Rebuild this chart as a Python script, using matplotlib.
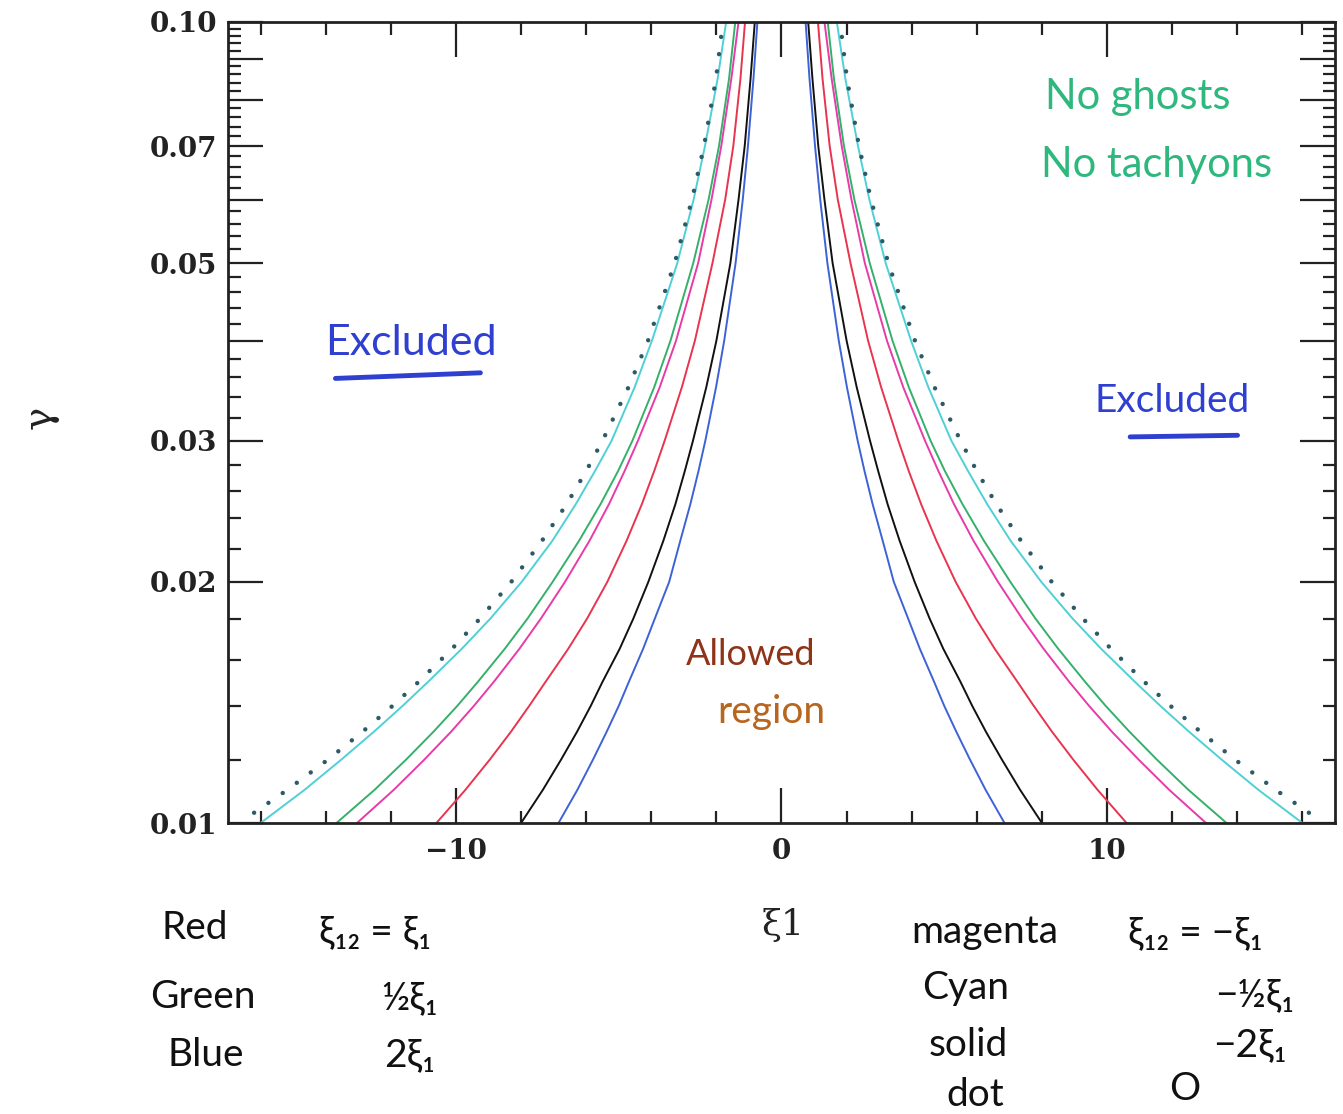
import matplotlib
matplotlib.use("Agg")
import matplotlib.pyplot as plt
import numpy as np
from matplotlib.ticker import FixedLocator, NullFormatter, FixedFormatter

gamma = [0.010, 0.011, 0.012, 0.013, 0.014, 0.015, 0.0165, 0.018, 0.020, 0.0225,
         0.025, 0.0275, 0.030, 0.035, 0.040, 0.050, 0.060, 0.070, 0.085, 0.100]

# |xi_1| of each boundary curve (plot is symmetric about xi_1 = 0)
xi_blue    = [6.85, 6.27, 5.79, 5.37, 5.00, 4.69, 4.25, 3.89, 3.45, 3.11,
              2.80, 2.55, 2.34, 2.01, 1.76, 1.41, 1.19, 1.03, 0.86, 0.74]
xi_black   = [8.00, 7.33, 6.77, 6.28, 5.86, 5.50, 4.97, 4.55, 4.09, 3.63,
              3.26, 2.97, 2.72, 2.31, 2.00, 1.57, 1.32, 1.13, 0.95, 0.82]
xi_red     = [10.60, 9.71, 8.96, 8.31, 7.75, 7.25, 6.55, 5.97, 5.35, 4.76,
              4.29, 3.91, 3.59, 3.06, 2.66, 2.12, 1.73, 1.48, 1.26, 1.12]
xi_magenta = [13.04, 11.91, 10.97, 10.15, 9.45, 8.84, 8.05, 7.39, 6.65, 5.90,
              5.30, 4.82, 4.41, 3.74, 3.24, 2.56, 2.15, 1.85, 1.54, 1.32]
xi_green   = [13.67, 12.50, 11.53, 10.69, 9.96, 9.33, 8.50, 7.80, 7.03, 6.22,
              5.56, 5.02, 4.58, 3.91, 3.41, 2.71, 2.24, 1.92, 1.61, 1.42]
xi_cyan    = [16.00, 14.65, 13.52, 12.52, 11.64, 10.86, 9.82, 8.94, 7.98, 7.04,
              6.32, 5.73, 5.22, 4.51, 3.98, 3.20, 2.70, 2.35, 1.96, 1.70]

gamma_dot  = [0.0103, 0.011, 0.012, 0.013, 0.014, 0.015, 0.0165, 0.018, 0.020, 0.0225,
              0.025, 0.0275, 0.030, 0.035, 0.040, 0.050, 0.060, 0.070, 0.085, 0.100]
xi_dot     = [16.20, 15.18, 13.93, 12.87, 11.95, 11.15, 10.12, 9.26, 8.30, 7.36,
              6.60, 6.00, 5.50, 4.70, 4.10, 3.28, 2.75, 2.38, 2.01, 1.80]

curves = [
    (xi_blue, '#3d62d6'),
    (xi_black, '#111111'),
    (xi_red, '#e8344e'),
    (xi_magenta, '#e83aa8'),
    (xi_green, '#35b06a'),
    (xi_cyan, '#4fd0d6'),
]

y_ticks = [0.01, 0.02, 0.03, 0.05, 0.07, 0.10]
y_tick_labels = ['0.01', '0.02', '0.03', '0.05', '0.07', '0.10']
x_ticks = [-10, 0, 10]
x_tick_labels = ['\u221210', '0', '10']

fig = plt.figure(figsize=(13.43, 11.14), dpi=100)
ax = fig.add_axes([0.1698, 0.2612, 0.8242, 0.7191])

g = np.array(gamma)
for xs, col in curves:
    xs = np.array(xs)
    ax.plot(-xs, g, color=col, lw=1.4)
    ax.plot(xs, g, color=col, lw=1.4)

gd = np.array(gamma_dot)
xd = np.array(xi_dot)
for s in (-1, 1):
    ax.plot(s * xd, gd, color='#2c5a66', lw=3.2, linestyle=(0, (0.01, 3.9)),
            dash_capstyle='round')

ax.set_yscale('log')
ax.set_xlim(-17, 17)
ax.set_ylim(0.01, 0.10)

# axis ticks: long majors, short minors, on all four sides, pointing in
ax.yaxis.set_major_locator(FixedLocator(np.arange(0.01, 0.1001, 0.01)))
ax.yaxis.set_minor_locator(FixedLocator(np.arange(0.012, 0.1, 0.002)))
lab = {round(v, 3): t for v, t in zip(y_ticks, y_tick_labels)}
ax.yaxis.set_major_formatter(FixedFormatter(
    [lab.get(round(v, 3), '') for v in np.arange(0.01, 0.1001, 0.01)]))
ax.yaxis.set_minor_formatter(NullFormatter())
ax.xaxis.set_major_locator(FixedLocator(x_ticks))
ax.xaxis.set_major_formatter(FixedFormatter(x_tick_labels))
ax.xaxis.set_minor_locator(FixedLocator(np.arange(-16, 17, 2)))

ax.tick_params(which='both', direction='in', top=True, right=True, width=1.6, color='#222222')
ax.tick_params(which='major', length=25)
ax.tick_params(which='minor', length=9)
ax.tick_params(axis='y', which='major', pad=8)
ax.tick_params(axis='x', which='major', pad=11)
for lbl in ax.get_xticklabels() + ax.get_yticklabels():
    lbl.set_fontfamily('DejaVu Serif')
    lbl.set_fontweight('bold')
    lbl.set_fontsize(20)
    lbl.set_color('#222222')
for sp in ax.spines.values():
    sp.set_linewidth(2.0)
    sp.set_color('#222222')

# axis labels
fig.text(0.030, 0.625, '\u03b3', rotation=90, fontsize=28, family='DejaVu Serif',
         ha='center', va='center', color='#222222')
fig.text(0.583, 0.170, '\u03be1', fontsize=26, family='DejaVu Serif',
         ha='center', va='center', color='#222222')

hand = ['Lato', 'DejaVu Sans']

# annotations inside the plot
ax.text(0.822, 0.906, 'No ghosts', transform=ax.transAxes, fontsize=30,
        family=hand, color='#2eb87e', ha='center', va='center')
ax.text(0.839, 0.821, 'No tachyons', transform=ax.transAxes, fontsize=30,
        family=hand, color='#2eb87e', ha='center', va='center')
ax.text(0.165, 0.599, 'Excluded', transform=ax.transAxes, fontsize=31,
        family=hand, color='#2f3fd0', ha='center', va='center')
ax.plot([0.097, 0.228], [0.555, 0.562], transform=ax.transAxes,
        color='#2f3fd0', lw=3.5, solid_capstyle='round')
ax.text(0.853, 0.527, 'Excluded', transform=ax.transAxes, fontsize=28,
        family=hand, color='#2f3fd0', ha='center', va='center')
ax.plot([0.815, 0.912], [0.482, 0.484], transform=ax.transAxes,
        color='#2f3fd0', lw=3.5, solid_capstyle='round')
ax.text(0.472, 0.210, 'Allowed', transform=ax.transAxes, fontsize=26,
        family=hand, color='#8e3418', ha='center', va='center')
ax.text(0.491, 0.139, 'region', transform=ax.transAxes, fontsize=28,
        family=hand, color='#b8651e', ha='center', va='center')

# key written below the plot
key_left = [('Red', 0.145, 0.167), ('Green', 0.151, 0.105), ('Blue', 0.153, 0.053)]
val_left = [('\u03be\u2081\u2082 = \u03be\u2081', 0.279, 0.163), ('\u00bd\u03be\u2081', 0.305, 0.104),
            ('2\u03be\u2081', 0.305, 0.053)]
key_right = [('magenta', 0.733, 0.163), ('Cyan', 0.719, 0.113), ('solid', 0.721, 0.062),
             ('dot', 0.726, 0.017)]
val_right = [('\u03be\u2081\u2082 = \u2212\u03be\u2081', 0.890, 0.162), ('\u2212\u00bd\u03be\u2081', 0.934, 0.107),
             ('\u22122\u03be\u2081', 0.931, 0.062), ('O', 0.882, 0.022)]
for t, x, y in key_left + val_left + key_right + val_right:
    fig.text(x, y, t, fontsize=28, family=hand, color='#111111', ha='center', va='center')

fig.savefig('out.png', dpi=100, facecolor='white')
